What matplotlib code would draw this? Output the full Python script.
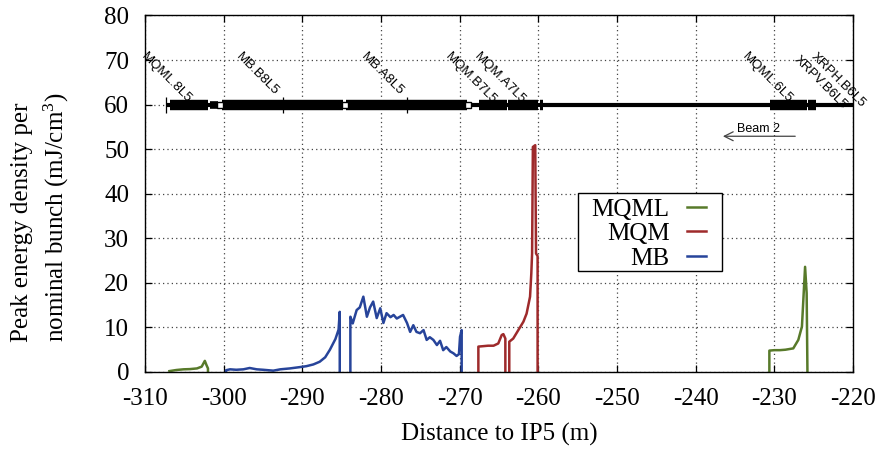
import numpy as np
import matplotlib
matplotlib.use("Agg")
import matplotlib.pyplot as plt
from matplotlib.patches import Rectangle

plt.rcParams["font.family"] = ["Liberation Serif", "DejaVu Serif"]
plt.rcParams["mathtext.fontset"] = "custom"
plt.rcParams["mathtext.rm"] = "Liberation Serif"
plt.rcParams["mathtext.it"] = "Liberation Serif:italic"
plt.rcParams["axes.unicode_minus"] = False

# energy density profiles (x in m, y in mJ/cm^3), NaN = gap
mqml8_x = [-306.9, -306.0, -305.1, -304.3, -303.4, -302.8, -302.4, -302.2, -302.0, -302.0]
mqml8_y = [0.2, 0.45, 0.6, 0.65, 0.8, 1.2, 2.5, 1.6, 0.8, 0.0]

mb_x = [-299.7, -299.7, -299.2, -298.4, -297.5, -296.7, -295.8, -295.0, -293.7, -292.8,
        -291.6, -290.3, -289.5, -288.6, -287.8, -287.1, -286.5, -285.8, -285.4, -285.25,
        -285.25, np.nan,
        -283.9, -283.9, -283.6, -283.1, -282.7, -282.25, -281.8, -281.4, -281.0, -280.55,
        -280.1, -279.7, -279.3, -278.8, -278.4, -278.0, -277.6, -277.2, -276.7, -276.3,
        -275.9, -275.5, -275.05, -274.6, -274.2, -273.8, -273.35, -272.9, -272.5, -272.1,
        -271.7, -271.2, -270.8, -270.4, -270.1, -269.96, -269.75, -269.75]
mb_y = [0.0, 0.4, 0.6, 0.5, 0.6, 0.9, 0.6, 0.5, 0.3, 0.6,
        0.8, 1.1, 1.3, 1.7, 2.3, 3.3, 5.0, 7.4, 9.5, 13.5,
        0.0, np.nan,
        0.0, 12.4, 10.9, 13.9, 14.5, 16.9, 12.4, 14.5, 15.8, 12.1,
        14.3, 11.0, 13.2, 12.3, 12.8, 12.0, 12.4, 12.8, 11.0, 9.0,
        10.5, 9.0, 8.7, 9.4, 7.2, 7.8, 7.2, 6.05, 7.0, 4.9,
        5.6, 4.6, 4.2, 3.6, 4.0, 7.9, 9.4, 0.0]

mqm_x = [-267.63, -267.63, -267.0, -266.4, -265.7, -265.1, -264.66, -264.45, -264.2, -264.2,
         np.nan,
         -263.7, -263.7, -263.2, -262.55, -261.9, -261.5, -261.06, -260.9, -260.8, -260.7,
         -260.4, -260.3, -260.1, -260.1]
mqm_y = [0.0, 5.7, 5.8, 5.9, 5.9, 6.4, 8.3, 8.5, 7.5, 0.0,
         np.nan,
         0.0, 6.8, 7.5, 9.4, 11.3, 13.1, 16.9, 22.1, 26.6, 50.5,
         50.9, 26.6, 26.0, 0.0]

mqml6_x = [-230.64, -230.64, -230.0, -229.3, -228.6, -227.6, -226.96, -226.5, -226.3, -226.1,
           -225.9, -225.8]
mqml6_y = [0.0, 4.8, 4.9, 4.9, 5.0, 5.3, 7.2, 10.2, 16.9, 23.6,
           17.7, 0.0]

# beam line layout
beam_y = 60
beam_start = -307.3
blocks = [(-306.8, -302.0), (-300.25, -284.8), (-284.4, -269.1), (-267.6, -264.0),
          (-263.8, -260.0), (-259.8, -259.4), (-230.55, -225.9), (-225.7, -224.7)]
small_blocks = [(-301.7, -300.7)]
hollow_marks = [-300.5, -284.6, -268.9]
tick_marks = [-307.3, -292.4, -276.7]
elem_names = ["MQML.8L5", "MB.B8L5", "MB.A8L5", "MQM.B7L5", "MQM.A7L5",
              "MQML.6L5", "XRPV.B6L5", "XRPH.B6L5"]
elem_x = [-309.75, -297.7, -281.8, -271.0, -267.4, -233.3, -226.7, -224.6]
elem_y = [72.2, 72.2, 72.2, 72.2, 72.2, 72.2, 71.4, 72.2]

green = "#587a2a"
red = "#9e2a2b"
blue = "#27449a"

fig = plt.figure(figsize=(8.79, 4.49), dpi=100)
ax = fig.add_axes([0.165, 0.1715, 0.8055, 0.794])

ax.grid(True, color="#444444", linestyle=(0, (1, 2.5)), linewidth=0.9)
ax.set_axisbelow(True)

ax.plot(mqml8_x, mqml8_y, color=green, lw=1.8)
ax.plot(mqml6_x, mqml6_y, color=green, lw=1.8, label="MQML")
ax.plot(mqm_x, mqm_y, color=red, lw=1.8, label="MQM")
ax.plot(mb_x, mb_y, color=blue, lw=1.8, label="MB")

# beam line
ax.plot([beam_start, -220], [beam_y, beam_y], color="black", lw=3, solid_capstyle="butt", zorder=4)
for a, b in blocks:
    ax.plot([a, b], [beam_y, beam_y], color="black", lw=7.5, solid_capstyle="butt", zorder=4)
for a, b in small_blocks:
    ax.plot([a, b], [beam_y, beam_y], color="black", lw=5.5, solid_capstyle="butt", zorder=4)
ax.vlines(tick_marks, beam_y - 1.9, beam_y + 1.7, color="black", lw=0.9, zorder=4)
ax.plot(hollow_marks, [beam_y] * len(hollow_marks), ls="none", marker="s", ms=5,
        mfc="white", mec="black", mew=1, zorder=5)
for name, x, y in zip(elem_names, elem_x, elem_y):
    ax.text(x, y, name, rotation=-45, rotation_mode="anchor", ha="left", va="top",
            fontsize=9.5, family=["Liberation Sans", "DejaVu Sans"], clip_on=False)

ax.annotate("", xy=(-236.9, 52.9), xytext=(-227.0, 52.9),
            arrowprops=dict(arrowstyle="->", color="#444444", lw=0.9, mutation_scale=16))
ax.text(-234.75, 53.9, "Beam 2", fontsize=9, family=["Liberation Sans", "DejaVu Sans"],
        va="baseline", ha="left")

ax.set_xlim(-310, -220)
ax.set_ylim(0, 80)
ax.set_xticks(np.arange(-310, -219, 10))
ax.set_yticks(np.arange(0, 81, 10))
ax.tick_params(direction="in", top=True, right=True, length=5, width=0.9, labelsize=18, pad=11.5)
for s in ax.spines.values():
    s.set_linewidth(1.0)

ax.set_xlabel("Distance to IP5 (m)", fontsize=18, labelpad=9)
fig.text(22 / 879, 1 - 342 / 449, "Peak energy density per", rotation=90,
         rotation_mode="anchor", ha="left", va="center", fontsize=18)
fig.text(56 / 879, 1 - 342 / 449, "nominal bunch (mJ/cm$^{3}$)", rotation=90,
         rotation_mode="anchor", ha="left", va="center", fontsize=18)

# legend: text on the left, sample line on the right, boxed
ax.add_patch(Rectangle((0.6116, 0.283), 0.2034, 0.219, transform=ax.transAxes,
                       facecolor="white", edgecolor="black", lw=1.0, zorder=6))
leg = ax.legend(loc="upper right", bbox_to_anchor=(0.7924, 0.488), markerfirst=False,
                fontsize=18, frameon=False, borderpad=0, labelspacing=0.08,
                handlelength=0.78, handletextpad=0.68, borderaxespad=0)
leg.set_zorder(7)

fig.savefig("out.png", dpi=100)
